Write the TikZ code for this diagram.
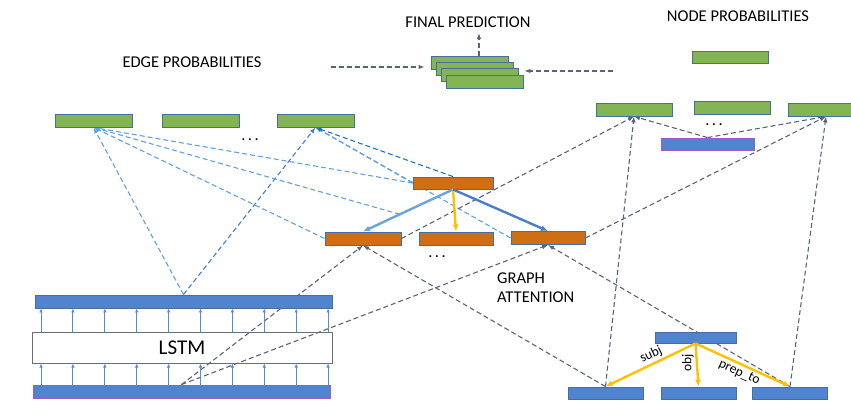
\documentclass[tikz,border=0pt]{standalone}
\usepackage{fontspec}
\setmainfont{Carlito}
\usepackage{xcolor}
\usepackage{tikz}
\usetikzlibrary{arrows.meta,calc,backgrounds}

\definecolor{probgreen}{RGB}{131,181,84}
\definecolor{attnorange}{RGB}{207,110,20}
\definecolor{wordblue}{RGB}{80,132,207}
\definecolor{wordpurple}{RGB}{160,90,200}
\definecolor{barline}{RGB}{70,110,160}
\definecolor{lstmgray}{RGB}{100,110,125}
\definecolor{linkgray}{RGB}{90,100,120}
\definecolor{edgeblue}{RGB}{100,160,220}
\definecolor{edgedeep}{RGB}{75,125,210}
\definecolor{edgecyan}{RGB}{20,120,200}
\definecolor{attnlight}{RGB}{105,165,220}
\definecolor{attndark}{RGB}{75,125,200}
\definecolor{relyellow}{RGB}{255,192,0}
\definecolor{feedblue}{RGB}{85,140,215}

\newcommand{\gapdots}{.\hspace{2.5pt}.\hspace{2.5pt}.}

\begin{document}
\begin{tikzpicture}[
    x = 1pt, y = -1pt,
    every node/.style = {font=\fontsize{16.5}{19}\selectfont},
    bar/.style        = {draw=barline, line width=0.9pt, inner sep=0pt, minimum height=13pt},
    prob/.style       = {bar, fill=probgreen, minimum width=77pt},
    attn/.style       = {bar, fill=attnorange, minimum width=76pt},
    word/.style       = {bar, fill=wordblue, minimum width=75pt},
    link/.style       = {draw=linkgray, line width=1.1pt, dash pattern=on 5pt off 3pt, -{Latex[length=6pt,width=4.5pt]}},
    edge link/.style  = {link, draw=edgeblue},
    attend/.style     = {line width=2.4pt, -{Latex[length=7pt,width=6pt]}},
    rel/.style        = {attend, draw=relyellow},
    rel label/.style  = {font=\fontsize{13.5}{15}\selectfont, inner sep=2pt},
    feed/.style       = {draw=feedblue, line width=0.9pt, -{Latex[length=4pt,width=3.5pt]}}
  ]
\useasboundingbox (0,0) rectangle (851,401);

% edge probabilities
\node[prob] (e1) at (93.5,120.5) {};
\node[prob] (e2) at (200.5,120.5) {};
\node[prob] (e3) at (315.5,120.5) {};
\node (edots) at (250,140) {\gapdots};
\node (etitle) at (192,62) {EDGE PROBABILITIES};

% final prediction
\node[prob] (f1) at (469.5,62.5) {};
\node[prob] (f2) at (474.5,68.5) {};
\node[prob] (f3) at (479.5,74.5) {};
\node[prob] (f4) at (484.5,81.5) {};
\node (ftitle) at (468,22) {FINAL PREDICTION};
\coordinate (fout) at (479,33);
\coordinate (fromedge) at (331,67);
\coordinate (fromnode) at (613,71);

% node probabilities
\node[prob, minimum width=76pt, minimum height=12pt] (n0) at (730,57) {};
\node[prob, minimum width=76pt] (n1) at (634,109.5) {};
\node[prob, minimum width=76pt] (n2) at (732,107.5) {};
\node[prob, minimum width=76pt] (n3) at (826,109.5) {};
\node[word, draw=wordpurple, minimum width=93pt, minimum height=12pt] (np) at (707.5,144) {};
\node (ndots) at (714,125) {\gapdots};
\node (ntitle) at (738,16) {NODE PROBABILITIES};

% graph attention
\node[attn, minimum width=80pt, minimum height=12pt] (t) at (453,183) {};
\node[attn] (m1) at (363,238.5) {};
\node[attn, minimum width=74pt] (m2) at (456,238.5) {};
\node[attn, minimum width=74pt] (m3) at (548,238) {};
\node (mdots) at (437,257) {\gapdots};
\node[align=left, anchor=north west, inner sep=0pt] (gatt) at (497,273) {GRAPH\\ATTENTION};
\coordinate (hit) at ($(t.south)!0.59!(m1.north)$);

% lstm
\node[word, minimum width=297pt] (h) at (183.5,301.5) {};
\node[draw=lstmgray, line width=1pt, minimum width=300pt, minimum height=31pt, inner sep=0pt,
      font=\fontsize{21}{24}\selectfont] (lstm) at (182,347.5) {LSTM};
\node[word, draw=wordpurple, minimum width=297pt] (x) at (181.5,391.5) {};

% dependency tree
\node[word, minimum width=81pt, minimum height=11pt] (w0) at (695.5,337.5) {};
\node[word, minimum height=12pt] (w1) at (605.5,393) {};
\node[word, minimum height=12pt] (w2) at (698.5,393) {};
\node[word, minimum height=12pt] (w3) at (790,393) {};

\foreach \i in {0,...,9}
  {
   \pgfmathsetmacro\xx{41+31.9*\i}
   \draw[feed] (\xx,0 |- x.north) -- (\xx,0 |- lstm.south);
   \draw[feed] (\xx,0 |- lstm.north) -- (\xx,0 |- h.south);
  }

\begin{pgfonlayer}{background}
  \draw[edge link] (h.north) -- (e1.south);
  \draw[edge link, draw=edgedeep] (h.north) -- (e3.south);
  \draw[edge link] (t.west) -- (e1.south);
  \draw[edge link] (m1.west) -- (e1.south);
  \draw[edge link] (hit) -- (e1.south);
  \draw[edge link] (t.west) -- (e3.south);
  \draw[edge link] (m3.west) -- (e3.south);
  \draw[edge link, draw=edgecyan] (t.north) -- (e3.south);
  \draw[link] (x.north) -- (m1.south);
  \draw[link] (x.north) -- (m3.south);
  \draw[link] (w1.north) -- (m1.south);
  \draw[link] (w3.north) -- (m3.south);
  \draw[link] (m1.east) -- (n1.south);
  \draw[link] (m3.east) -- (n3.south);
  \draw[link] (w1.north) -- (n1.south);
  \draw[link] (w3.north) -- (n3.south);
  \draw[link] (np.north) -- (n1.south);
  \draw[link] (np.north) -- (n3.south);
  \draw[link] (fromedge) -- ([xshift=-11pt]f2.west |- fromedge);
  \draw[link] (fromnode) -- ($(fromnode -| f4.east)+(1,0)$);
  \draw[link] (fout |- f1.north) -- (fout);
\end{pgfonlayer}

\draw[attend, draw=attnlight] (t.south) -- (m1.north);
\draw[rel] (t.south) -- (m2.north);
\draw[attend, draw=attndark] (t.south) -- (m3.north);
\draw[rel] (w0.south) -- node[rel label, sloped, above, pos=0.45] {subj} (w1.north);
\draw[rel] (w0.south) -- node[rel label, rotate=90, anchor=south, pos=0.45] {obj} (w2.north);
\draw[rel] (w0.south) -- node[rel label, sloped, below, pos=0.5] {prep\_to} (w3.north);

\end{tikzpicture}
\end{document}
